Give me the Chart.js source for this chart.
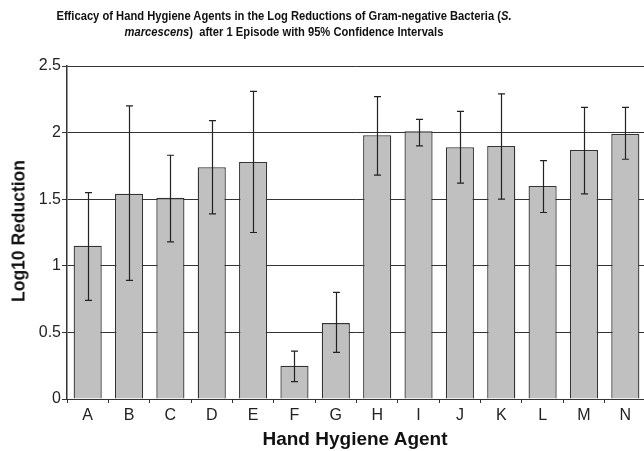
<!DOCTYPE html>
<html>
<head>
<meta charset="utf-8">
<script src="https://cdn.jsdelivr.net/npm/chart.js@4/dist/chart.umd.min.js"></script>
<style>
  html, body { margin:0; padding:0; background:#fff; overflow:hidden; width:644px; height:451px; }
  #wrap { position:absolute; left:0; top:0; width:650px; height:451px; }
  .t { position:absolute; font-family:"Liberation Sans", Arial, sans-serif; color:#111; white-space:nowrap; }
  #title { left:0; width:568px; top:8px; text-align:center; font-weight:bold; font-size:12px; line-height:16px; }
  #title div { display:block; transform:scaleX(0.932); }
  #ytitle { left:19px; top:231px; font-weight:bold; font-size:17.5px; transform:translate(-50%,-50%) rotate(-90deg); }
  #xtitle { left:355px; top:439px; font-weight:bold; font-size:19px; transform:translate(-50%,-50%); }
</style>
</head>
<body>
<div id="wrap"><canvas id="c" width="650" height="451"></canvas></div>
<div id="title" class="t">
  <div>Efficacy of Hand Hygiene Agents in the Log Reductions of Gram-negative Bacteria (<i>S.</i></div>
  <div><i>marcescens</i>)&nbsp; after 1 Episode with 95% Confidence Intervals</div>
</div>
<div id="ytitle" class="t">Log10 Reduction</div>
<div id="xtitle" class="t">Hand Hygiene Agent</div>
<script>
const categories = ['A','B','C','D','E','F','G','H','I','J','K','L','M','N'];
const meanReduction = [1.15, 1.54, 1.51, 1.74, 1.78, 0.25, 0.57, 1.98, 2.01, 1.89, 1.90, 1.60, 1.87, 1.99];
const ciLower = [0.74, 0.89, 1.18, 1.39, 1.25, 0.13, 0.35, 1.68, 1.90, 1.62, 1.50, 1.40, 1.54, 1.80];
const ciUpper = [1.55, 2.20, 1.83, 2.09, 2.31, 0.36, 0.80, 2.27, 2.10, 2.16, 2.29, 1.79, 2.19, 2.19];
const yTicks = [0, 0.5, 1, 1.5, 2, 2.5];

const errorBars = {
  id: 'errorBars',
  afterDatasetsDraw(chart) {
    const ctx = chart.ctx;
    const meta = chart.getDatasetMeta(0);
    const ys = chart.scales.y;
    ctx.save();
    ctx.strokeStyle = '#222';
    ctx.lineWidth = 1.2;
    meta.data.forEach((bar, i) => {
      const x = Math.round(bar.x) + 0.5;
      const yt = ys.getPixelForValue(ciUpper[i]);
      const yb = ys.getPixelForValue(ciLower[i]);
      ctx.beginPath();
      ctx.moveTo(x, yt); ctx.lineTo(x, yb);
      ctx.moveTo(x - 3.5, yt); ctx.lineTo(x + 3.5, yt);
      ctx.moveTo(x - 3.5, yb); ctx.lineTo(x + 3.5, yb);
      ctx.stroke();
    });
    ctx.restore();
  }
};

new Chart(document.getElementById('c'), {
  type: 'bar',
  data: {
    labels: categories,
    datasets: [{
      data: meanReduction,
      backgroundColor: '#c0c0c0',
      borderColor: '#333',
      borderWidth: 1.3,
      barPercentage: 0.68,
      categoryPercentage: 1
    }]
  },
  options: {
    responsive: false,
    animation: false,
    layout: { padding: { left: 0, top: 66, right: 4, bottom: 0 } },
    plugins: { legend: { display: false }, tooltip: { enabled: false }, title: { display: false } },
    scales: {
      x: {
        afterFit(s) { s.height = 52; },
        grid: { drawOnChartArea: false, drawTicks: true, tickLength: 4, color: '#333', offset: true },
        border: { display: true, color: '#333', width: 1 },
        ticks: { color: '#222', padding: 3, font: { family: '"Liberation Sans", Arial, sans-serif', size: 16 } }
      },
      y: {
        min: 0, max: 2.5,
        afterFit(s) { s.width = 67; },
        afterBuildTicks(s) { s.ticks = yTicks.map(v => ({ value: v })); },
        grid: { color: '#333', lineWidth: 1, drawTicks: true, tickLength: 5 },
        border: { display: true, color: '#333', width: 1.5 },
        ticks: {
          color: '#222', padding: 1,
          font: { family: '"Liberation Sans", Arial, sans-serif', size: 16 },
          callback: (v) => String(v)
        }
      }
    }
  },
  plugins: [errorBars]
});
</script>
</body>
</html>
